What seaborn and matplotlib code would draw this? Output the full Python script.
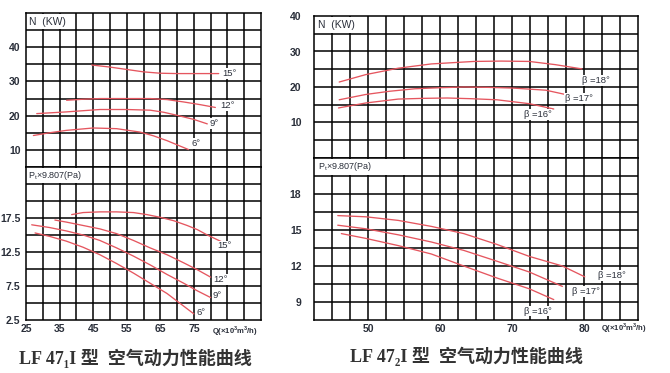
import numpy as np
import pandas as pd
import matplotlib
matplotlib.use('Agg')
import matplotlib.pyplot as plt
import seaborn as sns
from matplotlib.patches import Rectangle

sns.set_theme(style='white')
plt.rcParams['font.family'] = ['Liberation Sans', 'DejaVu Sans']

# ---------------- data: LF 47_1 I (left) ----------------
L_Q_GRID = [25, 30, 35, 40, 45, 50, 55, 60, 65, 70, 75, 80, 85, 90, 95]
L_Q_LABELS = ['25', '', '35', '', '45', '', '55', '', '65', '', '75', '', '', '', '']
L_N_GRID = [5, 10, 15, 20, 25, 30, 35, 40, 45, 50]
L_N_LABELS = ['', '10', '', '20', '', '30', '', '40', '', '']
L_P_GRID = [2.5, 5, 7.5, 10, 12.5, 15, 17.5, 20, 22.5, 25]
L_P_LABELS = ['2.5', '', '7.5', '', '12.5', '', '17.5', '', '', '']

L_N_15_Q = [44.6, 50, 55, 60, 65, 70, 75, 82.4]
L_N_15_V = [34.8, 34.2, 33.5, 32.8, 32.4, 32.3, 32.3, 32.3]
L_N_12_Q = [37.1, 42, 47, 55, 62, 67, 72, 77, 81.4]
L_N_12_V = [24.5, 24.8, 25.0, 25.0, 25.0, 24.7, 24.0, 23.2, 22.4]
L_N_9_Q = [28.2, 37, 47, 55, 62, 66, 70, 75, 79]
L_N_9_V = [20.6, 21.1, 21.8, 21.8, 21.6, 21.0, 20.1, 18.9, 17.6]
L_N_6_Q = [27.2, 32, 37, 45, 52, 59, 63, 67, 73.4]
L_N_6_V = [14.2, 15.0, 15.7, 16.4, 16.2, 15.2, 14.1, 12.7, 10.1]

L_P_15_Q = [38.6, 42, 47, 52, 57, 61, 65, 69, 73, 76, 79, 83.3]
L_P_15_V = [18.0, 18.3, 18.4, 18.4, 18.3, 18.0, 17.6, 17.1, 16.4, 15.8, 15.0, 14.0]
L_P_12_Q = [33.6, 37, 42, 47, 52, 57, 62, 67, 72, 76, 80]
L_P_12_V = [17.2, 16.9, 16.4, 15.9, 15.2, 14.2, 13.1, 12.1, 10.9, 9.9, 8.8]
L_P_9_Q = [26.7, 32, 37, 42, 47, 52, 57, 62, 67, 72, 76, 80]
L_P_9_V = [16.5, 16.1, 15.6, 15.0, 14.2, 13.1, 11.9, 10.6, 9.2, 7.9, 6.8, 5.8]
L_P_6_Q = [27.7, 32, 37, 42, 47, 52, 57, 62, 67, 71, 75]
L_P_6_V = [15.3, 14.8, 14.1, 13.2, 12.1, 10.8, 9.4, 7.9, 6.4, 4.9, 3.4]

L_ANGLES = ['15°', '12°', '9°', '6°']

# ---------------- data: LF 47_2 I (right) ----------------
R_Q_GRID = [42.5, 45, 47.5, 50, 52.5, 55, 57.5, 60, 62.5, 65, 67.5, 70,
            72.5, 75, 77.5, 80, 82.5, 85, 87.5]
R_Q_LABELS = ['', '', '', '50', '', '', '', '60', '', '', '', '70',
              '', '', '', '80', '', '', '']
R_N_GRID = [0, 5, 10, 15, 20, 25, 30, 35, 40]
R_N_LABELS = ['', '', '10', '', '20', '', '30', '', '40']
R_P_GRID = [7.5, 9, 10.5, 12, 13.5, 15, 16.5, 18, 19.5, 21]
R_P_LABELS = ['', '9', '', '12', '', '15', '', '18', '', '']

R_N_18_Q = [46.0, 49.7, 54.2, 58.8, 64.7, 68.5, 72.4, 76.0, 79.7]
R_N_18_V = [21.4, 23.5, 25.3, 26.5, 27.2, 27.3, 27.2, 26.3, 25.1]
R_N_17_Q = [46.0, 49.7, 53.0, 56.5, 60.0, 63.3, 66.7, 70.1, 74.7, 77.4]
R_N_17_V = [16.4, 17.9, 18.8, 19.5, 19.8, 20.0, 19.9, 19.7, 19.1, 17.9]
R_N_16_Q = [45.9, 49.7, 54.2, 57.6, 61.0, 64.4, 67.9, 72.4, 75.8]
R_N_16_V = [14.1, 15.5, 16.6, 16.8, 16.9, 16.7, 16.4, 15.3, 13.8]

R_P_18_Q = [45.8, 49.7, 54.2, 58.8, 63.3, 67.9, 72.4, 77.0, 80.1]
R_P_18_V = [16.2, 16.1, 15.8, 15.3, 14.7, 13.8, 12.8, 12.0, 11.1]
R_P_17_Q = [45.8, 49.7, 54.2, 58.8, 63.3, 67.9, 72.4, 77.0]
R_P_17_V = [15.4, 15.1, 14.6, 14.0, 13.3, 12.4, 11.5, 10.3]
R_P_16_Q = [46.3, 49.7, 54.2, 58.8, 63.3, 67.9, 72.4, 75.8]
R_P_16_V = [14.7, 14.3, 13.7, 13.0, 12.0, 11.0, 10.1, 9.2]

R_BETAS = ['β =18°', 'β =17°', 'β =16°']

# ---------------- styling ----------------
W, H = 670, 373
RED = '#e5565f'
TXT = '#2a2f3a'
GRID_LW = 1.1

fig = plt.figure(figsize=(W / 100, H / 100), dpi=100)
fig.patch.set_facecolor('white')


def px_axes(x0, y0, x1, y1):
    return fig.add_axes([x0 / W, (H - y1) / H, (x1 - x0) / W, (y1 - y0) / H])


def style_grid(ax, xgrid, xlabels, ygrid, ylabels, show_x, tick_left=2.5):
    ax.set_xlim(xgrid[0], xgrid[-1])
    ax.set_ylim(ygrid[0], ygrid[-1])
    ax.set_xticks(xgrid)
    ax.set_yticks(ygrid)
    ax.set_yticklabels(ylabels, fontsize=7.5, color=TXT, fontweight='bold')
    if show_x:
        ax.set_xticklabels(xlabels, fontsize=7.5, color=TXT, fontweight='bold')
    else:
        ax.set_xticklabels([])
    ax.tick_params(axis='y', length=tick_left, width=GRID_LW, color='black', pad=1.5)
    ax.tick_params(axis='x', length=0, pad=3)
    ax.grid(False)
    for xv in xgrid[1:-1]:
        ax.axvline(xv, color='black', lw=GRID_LW, zorder=0.5)
    for yv in ygrid[1:-1]:
        ax.axhline(yv, color='black', lw=GRID_LW, zorder=0.5)
    for s in ax.spines.values():
        s.set_color('black')
        s.set_linewidth(GRID_LW)
        s.set_visible(True)
    ax.set_facecolor('white')
    ax.set_xlabel('')
    ax.set_ylabel('')


def cover(ax, x0, x1, y0, y1, dx, dy):
    ax.add_patch(Rectangle((x0 + dx * 0.06, y0 + dy * 0.07),
                           (x1 - x0) - dx * 0.12, (y1 - y0) - dy * 0.14,
                           fc='white', ec='none', zorder=1))


def curve(ax, q, v):
    sns.lineplot(x=q, y=v, ax=ax, color=RED, lw=0.95, sort=False, zorder=3)


lbl_box = dict(fc='white', ec='none', pad=0.6)
LBL_FS = 6.8

# ---------- Left chart ----------
axLN = px_axes(26, 13, 261, 167)
axLP = px_axes(26, 167, 261, 320)

for q, v in [(L_N_15_Q, L_N_15_V), (L_N_12_Q, L_N_12_V), (L_N_9_Q, L_N_9_V), (L_N_6_Q, L_N_6_V)]:
    curve(axLN, q, v)
for q, v in [(L_P_15_Q, L_P_15_V), (L_P_12_Q, L_P_12_V), (L_P_9_Q, L_P_9_V), (L_P_6_Q, L_P_6_V)]:
    curve(axLP, q, v)

style_grid(axLN, L_Q_GRID, L_Q_LABELS, L_N_GRID, L_N_LABELS, False)
style_grid(axLP, L_Q_GRID, L_Q_LABELS, L_P_GRID, L_P_LABELS, True)

cover(axLN, 25, 40, 45, 50, 5, 5)
axLN.text(26, 47.5, 'N  (KW)', fontsize=7.5, color=TXT, va='center', ha='left', zorder=4)
cover(axLP, 25, 45, 22.5, 25, 5, 2.5)
axLP.text(25.6, 23.75, 'P$_{\\mathregular{t}}$×9.807(Pa)', fontsize=6.5, color=TXT,
          va='center', ha='left', zorder=4)

n_lab_pos = [(L_N_15_Q[-1] + 1.2, L_N_15_V[-1]), (L_N_12_Q[-1] + 1.6, L_N_12_V[-1] + 0.6),
             (L_N_9_Q[-1] + 0.6, L_N_9_V[-1] + 0.2), (L_N_6_Q[-1] + 0.8, L_N_6_V[-1] + 1.8)]
for lab, (x, y) in zip(L_ANGLES, n_lab_pos):
    axLN.text(x, y, lab, fontsize=LBL_FS, color=TXT, va='center', ha='left', bbox=lbl_box, zorder=4)
p_lab_pos = [(L_P_15_Q[-1] - 1.3, L_P_15_V[-1] - 0.6), (L_P_12_Q[-1] + 0.8, L_P_12_V[-1] - 0.3),
             (L_P_9_Q[-1] + 0.6, L_P_9_V[-1] + 0.3), (L_P_6_Q[-1] + 0.8, L_P_6_V[-1] + 0.2)]
for lab, (x, y) in zip(L_ANGLES, p_lab_pos):
    axLP.text(x, y, lab, fontsize=LBL_FS, color=TXT, va='center', ha='left', bbox=lbl_box, zorder=4)

axLP.text(80.3, 2.5 - 1.6, 'Q(×10$^{\\mathregular{3}}$m$^{\\mathregular{3}}$/h)', fontsize=5.5,
          color=TXT, va='center', ha='left', fontweight='bold', clip_on=False)

# ---------- Right chart ----------
axRN = px_axes(314, 16, 638, 158)
axRP = px_axes(314, 158, 638, 320)

for q, v in [(R_N_18_Q, R_N_18_V), (R_N_17_Q, R_N_17_V), (R_N_16_Q, R_N_16_V)]:
    curve(axRN, q, v)
for q, v in [(R_P_18_Q, R_P_18_V), (R_P_17_Q, R_P_17_V), (R_P_16_Q, R_P_16_V)]:
    curve(axRP, q, v)

style_grid(axRN, R_Q_GRID, R_Q_LABELS, R_N_GRID, R_N_LABELS, False, tick_left=0)
style_grid(axRP, R_Q_GRID, R_Q_LABELS, R_P_GRID, R_P_LABELS, True, tick_left=0)
axRN.tick_params(axis='y', pad=9)
axRP.tick_params(axis='y', pad=9)

cover(axRN, 42.5, 50, 35, 40, 2.5, 5)
axRN.text(43.1, 37.5, 'N  (KW)', fontsize=7.5, color=TXT, va='center', ha='left', zorder=4)
cover(axRP, 42.5, 57.5, 19.5, 21, 2.5, 1.5)
axRP.text(43.1, 20.25, 'P$_{\\mathregular{t}}$×9.807(Pa)', fontsize=6.5, color=TXT,
          va='center', ha='left', zorder=4)

rn_lab_pos = [(R_N_18_Q[-1], R_N_18_V[-1] - 3.3), (R_N_17_Q[-1], R_N_17_V[-1] - 1.1),
              (R_N_16_Q[-1] - 4.2, R_N_16_V[-1] - 1.6)]
for lab, (x, y) in zip(R_BETAS, rn_lab_pos):
    axRN.text(x, y, lab, fontsize=LBL_FS, color=TXT, va='center', ha='left', bbox=lbl_box, zorder=4)
rp_lab_pos = [(R_P_18_Q[-1] + 1.9, R_P_18_V[-1] + 0.1), (R_P_17_Q[-1] + 1.3, R_P_17_V[-1] - 0.45),
              (R_P_16_Q[-1] - 4.2, R_P_16_V[-1] - 0.95)]
for lab, (x, y) in zip(R_BETAS, rp_lab_pos):
    axRP.text(x, y, lab, fontsize=LBL_FS, color=TXT, va='center', ha='left', bbox=lbl_box, zorder=4)

axRP.text(82.3, 7.5 - 0.69, 'Q(×10$^{\\mathregular{3}}$m$^{\\mathregular{3}}$/h)', fontsize=5.5,
          color=TXT, va='center', ha='left', fontweight='bold', clip_on=False)

# ---------- Titles ----------
title_font = ['Liberation Serif', 'Noto Sans CJK SC', 'DejaVu Sans']
fig.text(135 / W, 1 - 358 / H, 'LF 47₁I 型  空气动力性能曲线', family=title_font,
         fontsize=13, fontweight='bold', color='#333333', ha='center', va='center')
fig.text(466 / W, 1 - 356 / H, 'LF 47₂I 型  空气动力性能曲线', family=title_font,
         fontsize=13, fontweight='bold', color='#333333', ha='center', va='center')

fig.savefig('out.png', dpi=100, facecolor='white')
